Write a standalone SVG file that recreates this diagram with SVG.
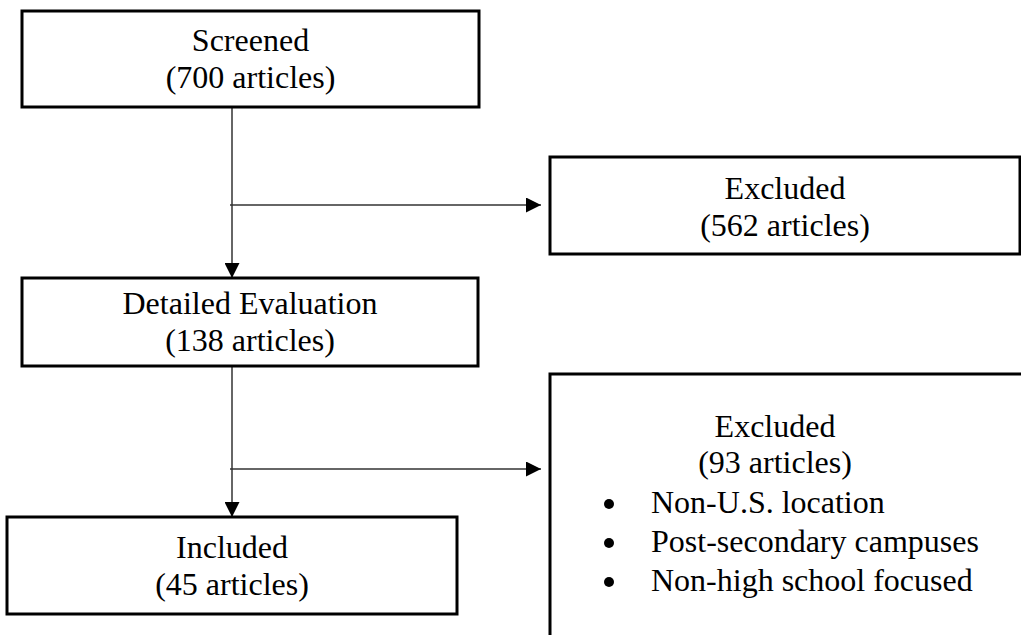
<svg xmlns="http://www.w3.org/2000/svg" width="1021" height="635" viewBox="0 0 1021 635">
<style>
.box{fill:#fff;stroke:#000;stroke-width:3}
.t{font-family:"Liberation Serif","Times New Roman",serif;font-size:32px;fill:#000}
.c{text-anchor:middle}
.ln{stroke:#333;stroke-width:1.5;fill:none}
</style>
<defs>
<marker id="ah" markerUnits="userSpaceOnUse" markerWidth="15" markerHeight="15" refX="15" refY="7.5" orient="auto">
<path d="M0,0 L15,7.5 L0,15 Z" fill="#000"/>
</marker>
</defs>
<rect width="1021" height="635" fill="#fff"/>
<g id="connectors">
<line class="ln" x1="232" y1="107" x2="232" y2="278" marker-end="url(#ah)"/>
<line class="ln" x1="230" y1="205" x2="541" y2="205" marker-end="url(#ah)"/>
<line class="ln" x1="232" y1="366" x2="232" y2="517" marker-end="url(#ah)"/>
<line class="ln" x1="230" y1="469" x2="541" y2="469" marker-end="url(#ah)"/>
</g>
<g id="screened">
<rect class="box" x="22" y="11" width="457" height="96"/>
<text class="t c" x="250.5" y="51">Screened</text>
<text class="t c" x="250.5" y="88">(700 articles)</text>
</g>
<g id="excluded1">
<rect class="box" x="550" y="157" width="470" height="97"/>
<text class="t c" x="785" y="199">Excluded</text>
<text class="t c" x="785" y="236">(562 articles)</text>
</g>
<g id="detailed">
<rect class="box" x="22" y="278" width="456" height="88"/>
<text class="t c" x="250" y="314">Detailed Evaluation</text>
<text class="t c" x="250" y="351">(138 articles)</text>
</g>
<g id="excluded2">
<path class="box" d="M550,640 L550,374 L1025,374"/>
<text class="t c" x="775" y="437">Excluded</text>
<text class="t c" x="775" y="473">(93 articles)</text>
<circle cx="609" cy="504" r="5"/>
<text class="t" x="651" y="513">Non-U.S. location</text>
<circle cx="609" cy="543" r="5"/>
<text class="t" x="651" y="552">Post-secondary campuses</text>
<circle cx="609" cy="582" r="5"/>
<text class="t" x="651" y="591">Non-high school focused</text>
</g>
<g id="included">
<rect class="box" x="7" y="517" width="450" height="97"/>
<text class="t c" x="232" y="558">Included</text>
<text class="t c" x="232" y="595">(45 articles)</text>
</g>
</svg>
